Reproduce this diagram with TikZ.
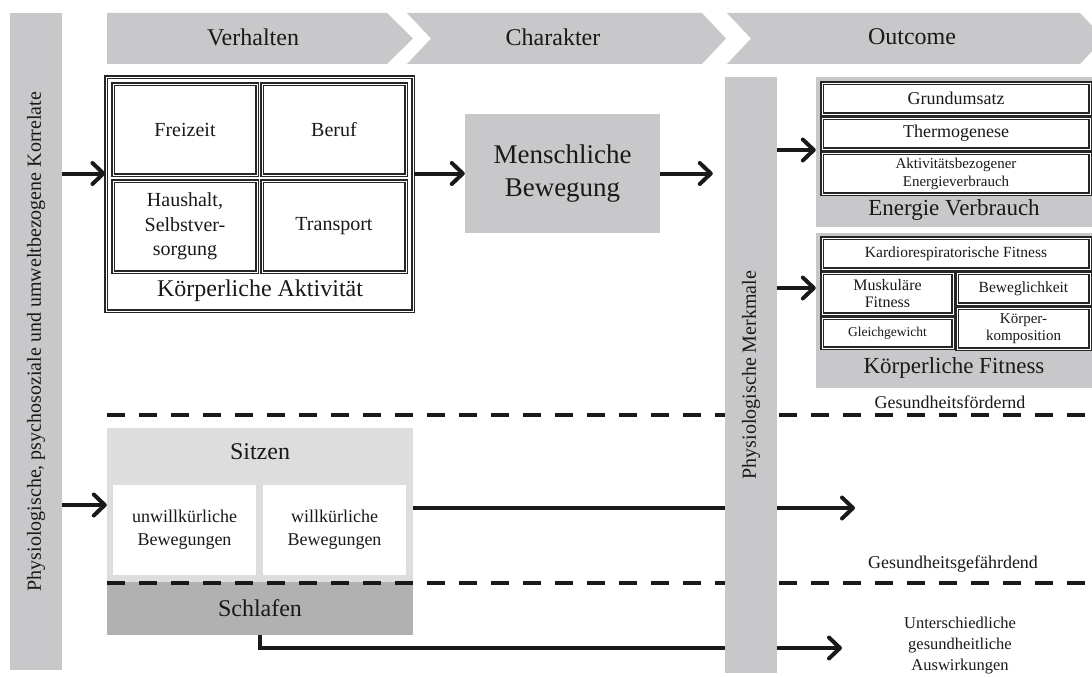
\documentclass[tikz,border=0pt]{standalone}
\usepackage{fontspec}
\setmainfont{Liberation Serif}
\usepackage{tikz}
\usetikzlibrary{arrows.meta}
\definecolor{balken}{RGB}{200,200,202}
\definecolor{sitzgrau}{RGB}{221,221,221}
\definecolor{schlafgrau}{RGB}{177,177,178}
\newcommand{\fs}[2]{\fontsize{#1}{#2}\selectfont}
\tikzset{%
    kasten/.style={%
        draw=black!85, line width=1.1pt, double=white, double distance=0.9pt,
        fill=white, inner sep=0pt, align=center, text=black!90},
    feld/.style={fill=#1, draw=none, inner sep=0pt, align=center, text=black!90},
    schrift/.style={inner sep=0pt, align=center, text=black!90},
    pfeil/.style={line width=4pt, draw=black!90,
        -{Straight Barb[length=11pt,width=21pt,round]}},
    trenn/.style={line width=4pt, draw=black!90, dash pattern=on 18pt off 14pt}
}

\begin{document}
\begin{tikzpicture}[x=1pt,y=-1pt]
    \useasboundingbox (0,0) rectangle (1092,677);
    % Phasen oben
    \fill[balken] (107,13)--(387,13)--(413,38.5)--(387,64)--(107,64)--cycle;
    \fill[balken] (407,13)--(702,13)--(726,38.5)--(702,64)--(407,64)--(431,38.5)--cycle;
    \fill[balken] (727,13)--(1080,13)--(1104,38.5)--(1080,64)--(727,64)--(751,38.5)--cycle;
    \node[schrift, font=\fs{24}{26}] (verhalten) at (253,37) {Verhalten};
    \node[schrift, font=\fs{24}{26}] (charakter) at (553,37) {Charakter};
    \node[schrift, font=\fs{24}{26}] (outcome) at (912,37) {Outcome};

    % Korrelate links
    \node[feld=balken, rotate=90, minimum width=657, minimum height=52, font=\fs{20}{24}]
        (korrelate) at (36,341.5) {Physiologische, psychosoziale und umweltbezogene Korrelate};

    % Koerperliche Aktivitaet
    \node[kasten, minimum width=307, minimum height=234] (aktivitaet) at (259.5,194) {};
    \node[kasten, minimum width=144, minimum height=91, font=\fs{20}{24.5}] (freizeit) at (185,129.5) {Freizeit};
    \node[kasten, minimum width=144, minimum height=91, font=\fs{20}{24.5}] (beruf) at (334,129.5) {Beruf};
    \node[kasten, minimum width=144, minimum height=91, font=\fs{20}{24.5}] (haushalt) at (185,226.5) {Haushalt,\\Selbstver-\\sorgung};
    \node[kasten, minimum width=144, minimum height=91, font=\fs{20}{24.5}] (transport) at (334,226.5) {Transport};
    \node[schrift, font=\fs{24}{26}] (aktname) at (260,291) {Körperliche Aktivität};

    % Bewegung
    \node[feld=balken, minimum width=195, minimum height=119, font=\fs{27}{33}] (bewegung) at (562.5,173.5) {Menschliche\\Bewegung};

    % Energie Verbrauch
    \node[feld=balken, minimum width=276, minimum height=150] (energie) at (954,152) {};
    \node[kasten, minimum width=268, minimum height=31, font=\fs{18}{20}] (grundumsatz) at (956,98.5) {Grundumsatz};
    \node[kasten, minimum width=268, minimum height=31, font=\fs{18}{20}] (thermo) at (956,133.5) {Thermogenese};
    \node[kasten, minimum width=268, minimum height=41, font=\fs{15}{18}] (aktverbrauch) at (956,173.5) {Aktivitätsbezogener\\Energieverbrauch};
    \node[schrift, font=\fs{23}{25}] (energiename) at (954,210) {Energie Verbrauch};

    % Koerperliche Fitness
    \node[feld=balken, minimum width=276, minimum height=155] (fitness) at (954,310.5) {};
    \node[kasten, minimum width=268, minimum height=31, font=\fs{15.5}{18}] (kardio) at (956,253.5) {Kardiorespiratorische Fitness};
    \node[kasten, minimum width=131, minimum height=41, font=\fs{16}{17}] (muskel) at (887.5,293.5) {Muskuläre\\Fitness};
    \node[kasten, minimum width=131, minimum height=30, font=\fs{13.5}{16}] (gleich) at (887.5,333) {Gleichgewicht};
    \node[kasten, minimum width=133, minimum height=31, font=\fs{15.5}{18}] (beweglich) at (1023.5,288.5) {Beweglichkeit};
    \node[kasten, minimum width=133, minimum height=41, font=\fs{15}{17}] (komposition) at (1023.5,328.5) {Körper-\\komposition};
    \node[schrift, font=\fs{23}{25}] (fitnessname) at (954,368) {Körperliche Fitness};

    % Sitzen und Schlafen
    \node[feld=sitzgrau, minimum width=306, minimum height=154] (sitzen) at (260,505) {};
    \node[schrift, font=\fs{24}{26}] (sitzname) at (260,452) {Sitzen};
    \node[feld=white, minimum width=143, minimum height=90, font=\fs{18}{23}] (unwill) at (184.5,530) {unwillkürliche\\Bewegungen};
    \node[feld=white, minimum width=143, minimum height=90, font=\fs{18}{23}] (will) at (334.5,530) {willkürliche\\Bewegungen};
    \node[feld=schlafgrau, minimum width=306, minimum height=53, font=\fs{24}{26}] (schlafen) at (260,608.5) {Schlafen};

    % Trennlinien
    \coordinate (t1a) at (107,415);
    \coordinate (t1b) at (1092,415);
    \coordinate (t2a) at (107,583);
    \coordinate (t2b) at (1092,583);
    \draw[trenn] (t1a) -- (t1b);
    \draw[trenn] (t2a) -- (t2b);
    \node[schrift, font=\fs{18}{20}] (foerdernd) at (950,402) {Gesundheitsfördernd};
    \node[schrift, font=\fs{18}{20}] (gefaehrdend) at (953,564) {Gesundheitsgefährdend};
    \node[schrift, font=\fs{16.5}{21}] (auswirkung) at (960,646) {Unterschiedliche\\gesundheitliche\\Auswirkungen};

    % lange Pfeile
    \coordinate (gefahrziel) at (855,508);
    \coordinate (auswirkziel) at (842,648);
    \draw[pfeil] (sitzen.east |- gefahrziel) -- (gefahrziel);
    \draw[pfeil] (schlafen.south) |- (auswirkziel);

    % Merkmale
    \node[feld=balken, rotate=90, minimum width=596, minimum height=52, font=\fs{20}{24}]
        (merkmale) at (751,375) {Physiologische Merkmale};

    % Pfeile
    \draw[pfeil] (korrelate.south |- bewegung) -- (aktivitaet.west |- bewegung);
    \draw[pfeil] (korrelate.south |- sitzen) -- (sitzen.west);
    \draw[pfeil] (aktivitaet.east |- bewegung) -- (bewegung.west);
    \draw[pfeil, shorten >=12pt] (bewegung.east) -- (merkmale.north |- bewegung);
    \draw[pfeil] (merkmale.south |- 0,150) -- (energie.west |- 0,150);
    \draw[pfeil] (merkmale.south |- 0,288) -- (fitness.west |- 0,288);
\end{tikzpicture}
\end{document}
